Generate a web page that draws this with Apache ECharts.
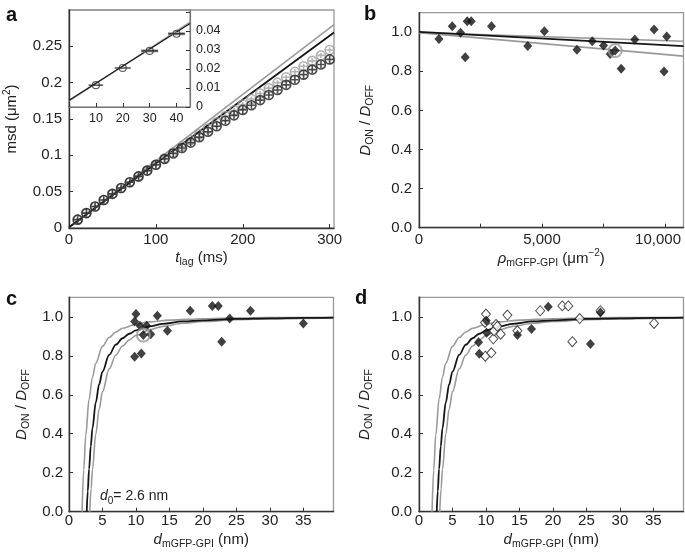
<!DOCTYPE html>
<html><head><meta charset="utf-8">
<script src="https://cdn.jsdelivr.net/npm/echarts@6/dist/echarts.min.js"></script>
<style>html,body{margin:0;padding:0;background:#fff}#c{width:685px;height:554px}</style>
</head><body><div id="c"></div>
<script>
const FONT = '"Liberation Sans", Arial, Helvetica, sans-serif';
// ---- Panel a: msd vs t_lag ----
const tLag = [10,20,30,40,50,60,70,80,90,100,110,120,130,140,150,160,170,180,190,200,210,220,230,240,250,260,270,280,290,300];
const msdBlack = [0.0115,0.0205,0.0295,0.0385,0.047,0.055,0.063,0.071,0.079,0.087,0.095,0.1025,0.110,0.1175,0.125,0.1325,0.140,0.1475,0.155,0.1625,0.169,0.176,0.183,0.190,0.197,0.204,0.211,0.218,0.225,0.232];
const msdGray  = [0.0115,0.0205,0.0295,0.0385,0.047,0.055,0.063,0.071,0.079,0.087,0.096,0.104,0.1125,0.121,0.129,0.137,0.1455,0.154,0.162,0.170,0.1775,0.185,0.1925,0.200,0.2075,0.215,0.2225,0.230,0.2375,0.245];
const aFitT = [0, 305];
const aFitBlack = [0.001, 0.269];
const aFitGray = [0.001, 0.280];
// inset
const insetT = [10,20,30,40];
const insetMsd = [0.0115,0.0205,0.0295,0.0385];
const insetErrBlack = [2.7,3.0,3.0,3.0];
const insetErrGray = [0,0,3.2,3.2];
const insetFitT = [0, 45];
const insetFitBlack = [0.0035, 0.0439];
const insetFitGray = [0.0030, 0.0447];
// ---- Panel b ----
const bRho = [811,1351,1689,1878,1959,2122,2946,4419,5095,6419,7041,7500,7770,7973,8216,8770,9554,9959,10068];
const bRatio = [0.966,1.031,0.997,0.872,1.056,1.056,1.031,0.929,1.005,0.910,0.954,0.932,0.889,0.906,0.813,0.963,1.014,0.799,0.978];
const bHighlight = [7973, 0.906];
const bFitX = [0, 10750];
const bFitBlack = [1.002, 0.929];
const bFitUpper = [0.998, 0.954];
const bFitLower = [0.998, 0.878];
// ---- Panel c ----
const cDist = [9.8,10.0,9.8,10.6,10.8,11.1,11.6,12.2,13.2,14.7,18.1,21.4,22.3,22.8,24.0,27.1,35.0];
const cRatio = [0.976,1.014,0.795,0.954,0.812,0.906,0.954,0.911,1.005,0.928,1.031,1.056,1.056,0.872,0.991,1.031,0.966];
const cHighlight = [11.1, 0.906];
// ---- Panel d ----
const dOpenDist = [9.86,10.0,9.9,10.8,11.1,11.2,11.5,11.7,12.2,13.2,14.7,18.1,21.4,22.3,22.9,24.0,27.1,35.1];
const dOpenRatio = [0.971,1.014,0.798,0.815,0.887,0.928,0.961,0.951,0.911,1.009,0.928,1.031,1.056,1.056,0.872,0.991,1.031,0.966];
const dFilledDist = [8.9,9.0,10.05,10.1,14.7,16.8,19.3,25.6,27.1];
const dFilledRatio = [0.869,0.810,0.981,0.918,0.906,0.937,1.051,0.860,1.022];
// fitted curves (c and d)
const curveBlackX = [2.65,2.8,3.0,3.25,3.5,4,4.5,5,6,7,8,9,10,12,14,17,20,25,30,35,39.5];
const curveBlackY = [0,0.104,0.220,0.335,0.427,0.561,0.653,0.719,0.805,0.857,0.890,0.913,0.930,0.951,0.964,0.976,0.982,0.989,0.992,0.994,0.9955];
const curveUpperX = [1.95,2.2,2.5,3,3.5,4,5,6,7,8,10,12,15,20,25,30,39.5];
const curveUpperY = [0,0.214,0.392,0.578,0.690,0.762,0.848,0.894,0.922,0.941,0.962,0.974,0.983,0.990,0.994,0.996,0.998];
const curveLowerX = [3.1,3.3,3.5,4,4.5,5,6,7,8,9,10,12,14,17,20,25,30,35,39.5];
const curveLowerY = [0,0.118,0.216,0.399,0.525,0.616,0.733,0.804,0.850,0.881,0.904,0.933,0.951,0.967,0.976,0.985,0.989,0.992,0.994];

const zip = (a, b) => a.map((v, i) => [v, b[i]]);
const BLACK = '#151515', GRAY = '#9a9a9a', AXIS = '#333';
const rich = {
  i: {fontStyle: 'italic', fontSize: 15, lineHeight: 20, fontFamily: FONT, color: '#222'},
  sub: {fontSize: 10.5, lineHeight: 14, verticalAlign: 'bottom', fontFamily: FONT, color: '#222'},
  sup: {fontSize: 10, lineHeight: 12, verticalAlign: 'top', fontFamily: FONT, color: '#222'}
};
const nameStyle = {fontSize: 15, lineHeight: 20, fontFamily: FONT, color: '#222', rich: rich};

function axis(o) {
  return Object.assign({
    type: 'value',
    axisLine: {onZero: false, lineStyle: {color: AXIS, width: 1.4}},
    axisTick: {inside: true, length: 4, lineStyle: {color: AXIS, width: 1}},
    splitLine: {show: false},
    axisLabel: Object.assign({fontSize: 15, fontFamily: FONT, color: '#222', showMaxLabel: false}, o.label || {}),
    nameTextStyle: nameStyle,
    nameLocation: 'middle'
  }, o);
}
const fmt1 = v => v.toFixed(1);

const CIRCLE_PLUS = 'path://M1,10A9,9 0 1,1 19,10A9,9 0 1,1 1,10ZM10,3L10,17M3,10L17,10';
const CIRCLE_MINUS = 'path://M1,10A9,9 0 1,1 19,10A9,9 0 1,1 1,10ZM10,5L10,15M3,10L17,10';

function lineS(xi, data, color, w, extra) {
  return Object.assign({type: 'line', xAxisIndex: xi, yAxisIndex: xi, data: data, symbol: 'none',
    lineStyle: {color: color, width: w}, silent: true, z: 2}, extra || {});
}
function errBars(xi, data, color, w) {
  return {type: 'custom', xAxisIndex: xi, yAxisIndex: xi, data: data, silent: true, z: 3,
    renderItem: function (params, api) {
      const x = api.value(0), y = api.value(1), e = api.value(2);
      const p1 = api.coord([x - e, y]), p2 = api.coord([x + e, y]);
      return {type: 'line', shape: {x1: p1[0], y1: p1[1], x2: p2[0], y2: p2[1]}, style: {stroke: color, lineWidth: w}};
    }};
}

const grids = [
  {left: 69, top: 10, width: 265, height: 218},
  {left: 69, top: 10, width: 121, height: 97},
  {left: 419, top: 12.7, width: 264.5, height: 215},
  {left: 69, top: 297.3, width: 264.5, height: 214.4},
  {left: 419, top: 297.3, width: 264.5, height: 214.4}
].map(g => Object.assign({show: true, borderColor: '#999', borderWidth: 1.3, backgroundColor: 'transparent', containLabel: false}, g));

const curveExtra = {smooth: 0.35, smoothMonotone: 'x'};
const DIAMOND = [9, 10];

const option = {
  animation: false,
  backgroundColor: '#fff',
  textStyle: {fontFamily: FONT},
  grid: grids,
  xAxis: [
    axis({gridIndex: 0, min: 0, max: 305, interval: 100, name: '{i|t}{sub|lag} (ms)', nameGap: 15, label: {margin: 4}}),
    axis({gridIndex: 1, min: 0, max: 45, interval: 10, axisLine: {onZero: false, lineStyle: {color: '#777', width: 1.2}},
      label: {fontSize: 12.5, margin: 5, showMinLabel: false}}),
    axis({gridIndex: 2, min: 0, max: 10750, interval: 2500, name: '{i|ρ}{sub|mGFP-GPI} (μm{sup|−2})', nameGap: 19,
      label: {margin: 5, rich: {r: {fontSize: 15, fontFamily: FONT, color: '#222', padding: [0, 14, 0, 0]}},
        formatter: v => (v === 10000 ? '{r|10,000}' : (v % 5000 === 0 ? v.toLocaleString('en-US') : ''))}}),
    axis({gridIndex: 3, min: 0, max: 39.5, interval: 5, name: '{i|d}{sub|mGFP-GPI} (nm)', nameGap: 15, label: {margin: 2}}),
    axis({gridIndex: 4, min: 0, max: 39.5, interval: 5, name: '{i|d}{sub|mGFP-GPI} (nm)', nameGap: 16, label: {margin: 2}})
  ],
  yAxis: [
    axis({gridIndex: 0, min: 0, max: 0.3, interval: 0.05, name: 'msd (μm{sup|2})', nameRotate: 90, nameGap: 47, label: {margin: 7}}),
    axis({gridIndex: 1, min: 0, max: 0.051, interval: 0.01, position: 'right', axisLine: {onZero: false, lineStyle: {color: '#777', width: 1.2}},
      label: {fontSize: 12.5, margin: 6, formatter: v => (v > 0.045 ? '' : String(+v.toFixed(2)))}}),
    axis({gridIndex: 2, min: 0, max: 1.1, interval: 0.2, name: '{i|D}{sub|ON} / {i|D}{sub|OFF}', nameRotate: 90, nameGap: 43, label: {margin: 7, formatter: fmt1}}),
    axis({gridIndex: 3, min: 0, max: 1.1, interval: 0.2, name: '{i|D}{sub|ON} / {i|D}{sub|OFF}', nameRotate: 90, nameGap: 37, label: {margin: 6, formatter: fmt1}}),
    axis({gridIndex: 4, min: 0, max: 1.1, interval: 0.2, name: '{i|D}{sub|ON} / {i|D}{sub|OFF}', nameRotate: 90, nameGap: 44, label: {margin: 7, formatter: fmt1}})
  ],
  series: [
    // panel a
    lineS(0, zip(aFitT, aFitGray), GRAY, 1.6),
    lineS(0, zip(aFitT, aFitBlack), BLACK, 1.8),
    {type: 'scatter', xAxisIndex: 0, yAxisIndex: 0, data: zip(tLag, msdGray), symbol: CIRCLE_MINUS, symbolSize: 9,
      itemStyle: {color: 'rgba(0,0,0,0)', borderColor: '#a0a0a0', borderWidth: 1.6}, silent: true, z: 3},
    {type: 'scatter', xAxisIndex: 0, yAxisIndex: 0, data: zip(tLag, msdBlack), symbol: CIRCLE_PLUS, symbolSize: 9,
      itemStyle: {color: 'rgba(0,0,0,0)', borderColor: '#1e1e1e', borderWidth: 1.6}, silent: true, z: 4},
    // inset
    lineS(1, zip(insetFitT, insetFitGray), GRAY, 1.3),
    lineS(1, zip(insetFitT, insetFitBlack), BLACK, 1.2),
    errBars(1, insetT.map((t, i) => [t, insetMsd[i], insetErrGray[i]]), '#999', 3),
    errBars(1, insetT.map((t, i) => [t, insetMsd[i], insetErrBlack[i]]), '#222', 1.2),
    {type: 'scatter', xAxisIndex: 1, yAxisIndex: 1, data: zip(insetT, insetMsd), symbol: 'circle', symbolSize: 7,
      itemStyle: {color: 'rgba(0,0,0,0)', borderColor: '#333', borderWidth: 1.2}, silent: true, z: 5},
    // panel b
    lineS(2, zip(bFitX, bFitUpper), GRAY, 1.6),
    lineS(2, zip(bFitX, bFitLower), GRAY, 1.6),
    lineS(2, zip(bFitX, bFitBlack), BLACK, 1.8),
    {type: 'scatter', xAxisIndex: 2, yAxisIndex: 2, data: zip(bRho, bRatio), symbol: 'diamond', symbolSize: DIAMOND,
      itemStyle: {color: '#111'}, silent: true, z: 4},
    {type: 'scatter', xAxisIndex: 2, yAxisIndex: 2, data: [bHighlight], symbol: 'circle', symbolSize: 13,
      itemStyle: {color: 'rgba(0,0,0,0)', borderColor: '#9a9a9a', borderWidth: 2}, silent: true, z: 5},
    // panel c
    lineS(3, zip(curveUpperX, curveUpperY), GRAY, 1.6, curveExtra),
    lineS(3, zip(curveLowerX, curveLowerY), GRAY, 1.6, curveExtra),
    lineS(3, zip(curveBlackX, curveBlackY), BLACK, 1.8, curveExtra),
    {type: 'scatter', xAxisIndex: 3, yAxisIndex: 3, data: zip(cDist, cRatio), symbol: 'diamond', symbolSize: DIAMOND,
      itemStyle: {color: '#111'}, silent: true, z: 4},
    {type: 'scatter', xAxisIndex: 3, yAxisIndex: 3, data: [cHighlight], symbol: 'circle', symbolSize: 13,
      itemStyle: {color: 'rgba(0,0,0,0)', borderColor: '#9a9a9a', borderWidth: 2}, silent: true, z: 5},
    // panel d
    lineS(4, zip(curveUpperX, curveUpperY), GRAY, 1.6, curveExtra),
    lineS(4, zip(curveLowerX, curveLowerY), GRAY, 1.6, curveExtra),
    lineS(4, zip(curveBlackX, curveBlackY), BLACK, 1.8, curveExtra),
    {type: 'scatter', xAxisIndex: 4, yAxisIndex: 4, data: zip(dOpenDist, dOpenRatio), symbol: 'diamond', symbolSize: DIAMOND,
      itemStyle: {color: '#fff', borderColor: '#222', borderWidth: 1}, silent: true, z: 4},
    {type: 'scatter', xAxisIndex: 4, yAxisIndex: 4, data: zip(dFilledDist, dFilledRatio), symbol: 'diamond', symbolSize: DIAMOND,
      itemStyle: {color: '#111'}, silent: true, z: 5}
  ],
  graphic: [
    {type: 'text', left: 6, top: 5, style: {text: 'a', font: 'bold 20px ' + FONT, fill: '#111'}},
    {type: 'text', left: 364, top: 4, style: {text: 'b', font: 'bold 20px ' + FONT, fill: '#111'}},
    {type: 'text', left: 6, top: 289, style: {text: 'c', font: 'bold 20px ' + FONT, fill: '#111'}},
    {type: 'text', left: 355, top: 288, style: {text: 'd', font: 'bold 20px ' + FONT, fill: '#111'}},
    {type: 'text', left: 100, top: 486, style: {text: '{i|d}{sub|0}= 2.6 nm', fontSize: 14, lineHeight: 20, fontFamily: FONT, fill: '#222',
      rich: {i: {fontStyle: 'italic', fontSize: 14, lineHeight: 20, fontFamily: FONT}, sub: {fontSize: 10, lineHeight: 14, verticalAlign: 'bottom', fontFamily: FONT}}}}
  ]
};
const chart = echarts.init(document.getElementById('c'), null, {renderer: 'canvas'});
chart.setOption(option);
</script>
</body></html>
